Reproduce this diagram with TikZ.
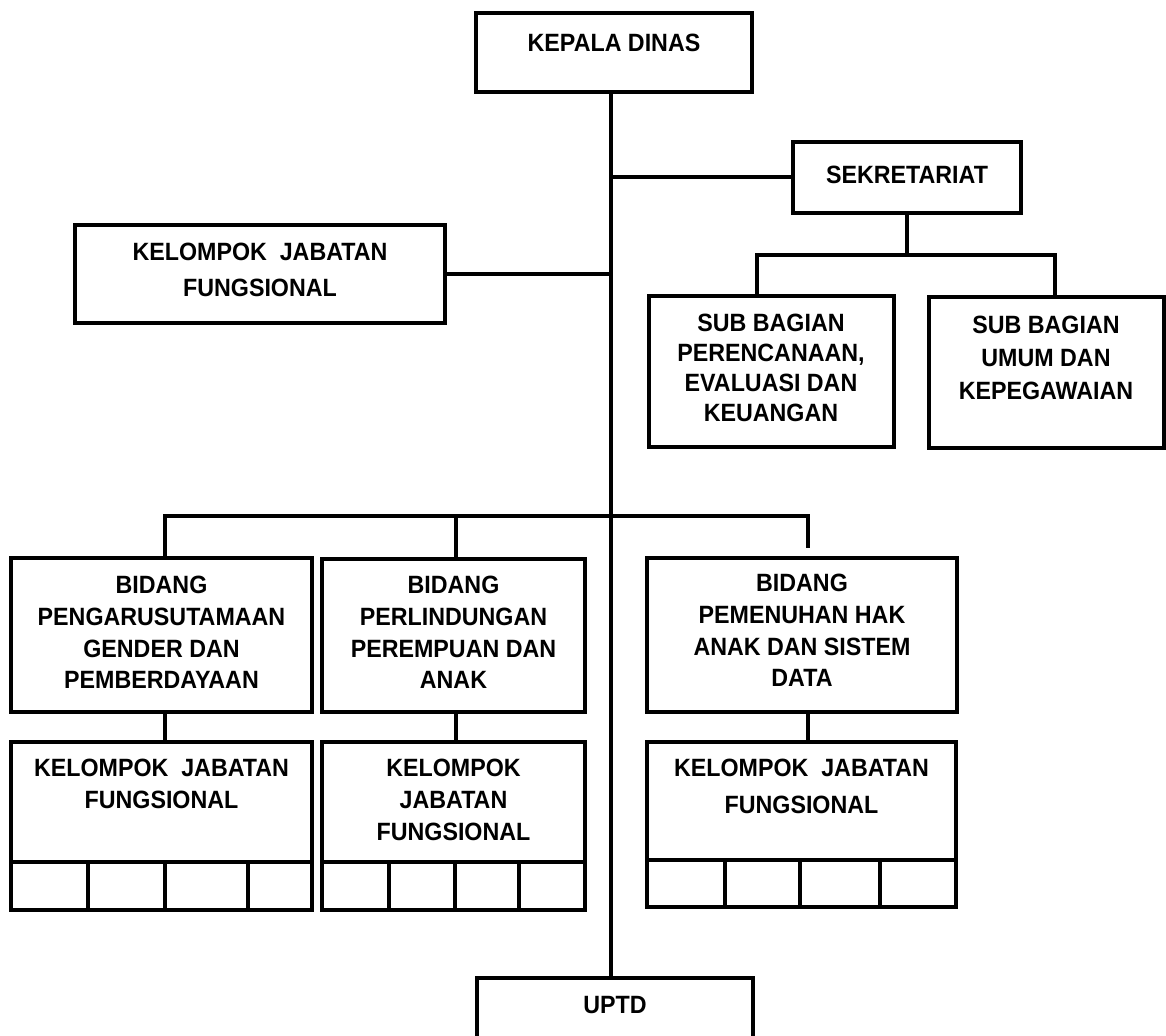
\documentclass[tikz,border=0pt]{standalone}
\usepackage{fontspec}
\setmainfont{Liberation Sans}[FakeStretch=0.93]
\begin{document}
\begin{tikzpicture}[x=1pt,y=-1pt,
  box/.style={draw, line width=4pt, rectangle, inner sep=0pt, line join=miter},
  lbl/.style={align=center, inner sep=0pt, font=\fontsize{25}{31.7}\selectfont\bfseries},
  conn/.style={line width=4pt, line join=miter}]
\useasboundingbox (0,0) rectangle (1166,1035);
\clip (0,0) rectangle (1166,1035);

% boxes
\node[box, minimum width=276pt, minimum height=79pt] (kd) at (614,52.5) {};
\node[box, minimum width=228pt, minimum height=71pt] (sek) at (907,177.5) {};
\node[box, minimum width=370pt, minimum height=98pt] (kjft) at (260,274) {};
\node[box, minimum width=245pt, minimum height=151pt] (subA) at (771.5,371.5) {};
\node[box, minimum width=235pt, minimum height=151pt] (subB) at (1046.5,372.5) {};
\node[box, minimum width=301pt, minimum height=154pt] (b1) at (161.5,635) {};
\node[box, minimum width=263pt, minimum height=153pt] (b2) at (453.5,635.5) {};
\node[box, minimum width=310pt, minimum height=154pt] (b3) at (802,635) {};
\node[box, minimum width=301pt, minimum height=120pt] (k1) at (161.5,802) {};
\node[box, minimum width=263pt, minimum height=120pt] (k2) at (453.5,802) {};
\node[box, minimum width=309pt, minimum height=118pt] (k3) at (801.5,801) {};
\node[box, minimum width=276pt, minimum height=72pt] (uptd) at (615,1014) {};

% texts
\node[lbl] (tkd) at (614,43) {KEPALA DINAS};
\node[lbl] (tsek) at (907,175) {SEKRETARIAT};
\node[lbl, font=\fontsize{25}{36}\selectfont\bfseries] (tkjft) at (260,270) {KELOMPOK~ JABATAN\\FUNGSIONAL};
\node[lbl, font=\fontsize{25}{30}\selectfont\bfseries] (tsubA) at (771,368) {SUB BAGIAN\\PERENCANAAN,\\EVALUASI DAN\\KEUANGAN};
\node[lbl, font=\fontsize{25}{33}\selectfont\bfseries] (tsubB) at (1046,358) {SUB BAGIAN\\UMUM DAN\\KEPEGAWAIAN};
\node[lbl] (tb1) at (161.5,632.5) {BIDANG\\PENGARUSUTAMAAN\\GENDER DAN\\PEMBERDAYAAN};
\node[lbl] (tb2) at (453.5,632.5) {BIDANG\\PERLINDUNGAN\\PEREMPUAN DAN\\ANAK};
\node[lbl] (tb3) at (802,630.5) {BIDANG\\PEMENUHAN HAK\\ANAK DAN SISTEM\\DATA};
\node[lbl, font=\fontsize{25}{32}\selectfont\bfseries] (tk1) at (161.5,784) {KELOMPOK~ JABATAN\\FUNGSIONAL};
\node[lbl, font=\fontsize{25}{32}\selectfont\bfseries] (tk2) at (453.5,800) {KELOMPOK\\JABATAN\\FUNGSIONAL};
\node[lbl, font=\fontsize{25}{37}\selectfont\bfseries] (tk3) at (801.5,786) {KELOMPOK~ JABATAN\\FUNGSIONAL};
\node[lbl] (tuptd) at (615,1005) {UPTD};

% cells
\draw[box] (11,862) rectangle (312,910);
\draw[conn] (88,862) -- (88,910) (165,862) -- (165,910) (248,862) -- (248,910);
\draw[box] (322,862) rectangle (585,910);
\draw[conn] (389,862) -- (389,910) (455,862) -- (455,910) (519,862) -- (519,910);
\draw[box] (647,860) rectangle (956,907);
\draw[conn] (725,860) -- (725,907) (800,860) -- (800,907) (880,860) -- (880,907);

% connectors
\coordinate (spine) at (611,0);
\draw[conn] (kd.south -| spine) -- (uptd.north -| spine);
\draw[conn] (sek.west) -- (sek.west -| spine);
\draw[conn] (kjft.east) -- (kjft.east -| spine);

\coordinate (sbA) at (757,255);
\coordinate (sbB) at (1055,255);
\draw[conn] (sek.south) -- (sek.south |- sbA);
\draw[conn] (sbA |- subA.north) -- (sbA) -- (sbB) -- (sbB |- subB.north);

\coordinate (bus1) at (165,516);
\coordinate (bus2) at (456,516);
\coordinate (bus3) at (808,516);
\coordinate (d3end) at (808,548);
\draw[conn] (bus1 |- b1.north) -- (bus1) -- (bus3) -- (d3end);
\draw[conn] (bus2) -- (bus2 |- b2.north);

\draw[conn] (b1.south -| bus1) -- (k1.north -| bus1);
\draw[conn] (b2.south -| bus2) -- (k2.north -| bus2);
\draw[conn] (b3.south -| bus3) -- (k3.north -| bus3);
\end{tikzpicture}
\end{document}
